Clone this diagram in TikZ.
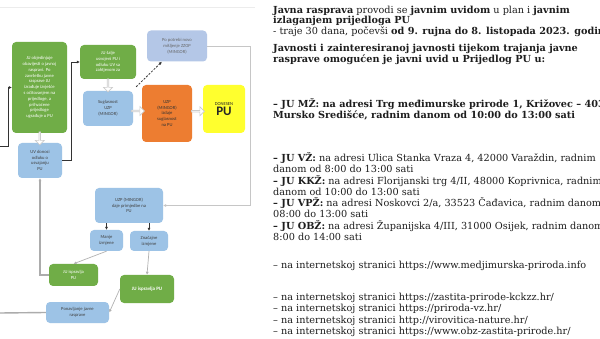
\documentclass[tikz,border=0pt]{standalone}
\usepackage{fontspec}
\setmainfont{DejaVu Serif}
\newfontfamily\boxfont{Carlito}
\usetikzlibrary{arrows.meta,shapes.arrows,calc}
\definecolor{gr}{HTML}{70AD47}
\definecolor{lb}{HTML}{9DC3E6}
\definecolor{lav}{HTML}{B4C7E7}
\definecolor{org}{HTML}{ED7D31}
\definecolor{yel}{HTML}{FFFF2E}
\definecolor{txt}{HTML}{1E1E1E}
\newcommand{\txtline}[3]{\node[tx] (#1) at (273,#2) {#3};}
\begin{document}
\begin{tikzpicture}[x=1pt,y=-1pt,
  box/.style={rounded corners=4pt, align=center, inner sep=1pt,
    font=\boxfont\fontsize{4.6}{5.8}\selectfont},
  gbox/.style={box, fill=gr, text=white},
  bbox/.style={box, fill=lb, text=black!75},
  hol/.style={single arrow, draw=gray!40, fill=white, line width=0.6pt,
    minimum height=13pt, minimum width=9pt, single arrow head extend=1.5pt,
    inner sep=0pt},
  dk/.style={draw=black!80, line width=0.8pt, -{Latex[length=3pt,width=3pt]}},
  lt/.style={draw=gray!45, line width=0.8pt, -{Latex[length=3pt,width=3pt]}},
  md/.style={draw=gray!65, line width=1.4pt},
  tx/.style={anchor=base west, inner sep=0pt, text=txt,
    font=\fontsize{9.7}{11}\selectfont}
]
\useasboundingbox (0,0) rectangle (600,339);
\clip (0,0) rectangle (600,339);
\fill[white] (0,0) rectangle (600,339);
\draw[gray!15, line width=0.6pt] (0,7) -- (255,7);

% boxes
\node[gbox, minimum width=55pt, minimum height=91pt] (n1) at (39.5,87.5)
  {JU objedinjuje\\obavijesti o javnoj\\raspravi. Po\\završetku javne\\rasprave JU\\izrađuje izvješće\\s očitovanjem na\\prijedloge, a\\prihvaćene\\prijedloge\\ugrađuje u PU};
\node[gbox, minimum width=56pt, minimum height=34pt] (n2) at (108,62)
  {JU šalje\\usvojeni PU i\\odluku UV sa\\zahtjevom za};
\node[bbox, minimum width=50pt, minimum height=35pt] (n3) at (108,108.5)
  {Suglasnost\\UZP\\(MINGOR)};
\node[box, fill=lav, text=black!60, minimum width=60pt, minimum height=31pt] (n4) at (177,46)
  {Po potrebi novo\\mišljenje ZZOP\\(MINGOR)};
\node[box, fill=org, text=black!80, minimum width=50pt, minimum height=57pt] (n5) at (167,113.5)
  {UZP\\(MINGOR)\\izdaje\\suglasnost\\na PU};
\node[box, fill=yel, text=black!85, minimum width=42pt, minimum height=48pt] (n6) at (224,109)
  {DONESEN\\[1pt]{\fontsize{13}{14}\selectfont\bfseries PU}};
\node[bbox, minimum width=44pt, minimum height=35pt] (n7) at (40,160.5)
  {UV donosi\\odluku o\\usvajanju\\PU};
\node[bbox, minimum width=68pt, minimum height=35pt] (n8) at (129,205.5)
  {UZP (MINGOR)\\daje primjedbe na\\PU};
\node[bbox, minimum width=33pt, minimum height=21pt] (n9) at (106.5,240.5)
  {Manje\\izmjene};
\node[bbox, minimum width=38pt, minimum height=20pt] (n10) at (149,241)
  {Značajne\\izmjene};
\node[gbox, minimum width=49pt, minimum height=22pt] (n11) at (73.5,275)
  {JU ispravlja\\PU};
\node[gbox, minimum width=54pt, minimum height=28pt, font=\boxfont\fontsize{5}{6}\selectfont\bfseries] (n12) at (147,289)
  {JU ispravlja PU};
\node[bbox, minimum width=63pt, minimum height=21pt] (n13) at (77.5,312.5)
  {Ponavljanje javne\\rasprave};

% hollow arrows
\node[hol, rotate=-90] (h1) at ($(n1.south)!0.5!(n7.north)$) {};
\node[hol, rotate=-90] (h2) at ($(n2.south)!0.5!(n3.north)$) {};
\node[hol] (h3) at ($(n3.east)!0.5!(n5.west)$) {};
\node[hol] (h4) at ($(n5.east)!0.5!(n6.west)$) {};

% connectors
\coordinate (inL) at (0,146);
\coordinate (outL) at (0,313);
\draw[dk] (inL) -- ++(8,0) |- (n1.west);
\draw[dk] (n7.east) -- ++(9,0) |- (n2.west);
\draw[dk, dashed, dash pattern=on 2pt off 1.5pt] ($(n3.north east)+(3,-4)$) -- ($(n4.south west)!0.25!(n4.south east)$);
\draw[lt] (n4.east) -- ++(43,0) |- (n8.east);
\draw[dk, line width=0.6pt] (n9.north |- n8.south) -- (n9.north);
\draw[dk, line width=0.6pt] (n10.north |- n8.south) -- (n10.north);
\draw[dk, draw=gray!60, line width=0.7pt] (n9.south) -- (n11.north);
\draw[dk, draw=gray!60, line width=0.7pt] (n10.south) -- (n12.north);
\draw[md, -{Latex[length=3pt,width=3pt]}] (n11.west) -| (n7.south);
\draw[dk, draw=gray!60, line width=0.7pt] (n12.west) -- (n13.east);
\draw[md] (n13.west) -- (outL);

% right text
\txtline{t1}{13.5}{\textbf{Javna rasprava} provodi se \textbf{javnim uvidom} u plan i \textbf{javnim}}
\txtline{t2}{24}{\textbf{izlaganjem prijedloga PU}}
\txtline{t3}{34.5}{- traje 30 dana, počevši \textbf{od 9. rujna do 8. listopada 2023. godine}}
\txtline{t4}{52}{\textbf{Javnosti i zainteresiranoj javnosti tijekom trajanja javne}}
\txtline{t5}{62.5}{\textbf{rasprave omogućen je javni uvid u Prijedlog PU u:}}
\txtline{t6}{107.5}{\textbf{– JU MŽ: na adresi Trg međimurske prirode 1, Križovec – 403}}
\txtline{t7}{118.5}{\textbf{Mursko Središće, radnim danom od 10:00 do 13:00 sati}}
\txtline{t8}{161.5}{\textbf{– JU VŽ:} na adresi Ulica Stanka Vraza 4, 42000 Varaždin, radnim}
\txtline{t9}{172.8}{danom od 8:00 do 13:00 sati}
\txtline{t10}{184.1}{\textbf{– JU KKŽ:} na adresi Florijanski trg 4/II, 48000 Koprivnica, radnim}
\txtline{t11}{195.4}{danom od 10:00 do 13:00 sati}
\txtline{t12}{206.7}{\textbf{– JU VPŽ:} na adresi Noskovci 2/a, 33523 Čađavica, radnim danom}
\txtline{t13}{218}{08:00 do 13:00 sati}
\txtline{t14}{229.3}{\textbf{– JU OBŽ:} na adresi Županijska 4/III, 31000 Osijek, radnim danom}
\txtline{t15}{240.6}{8:00 do 14:00 sati}
\txtline{t16}{268.5}{– na internetskoj stranici https://www.medjimurska-priroda.info}
\txtline{t17}{300.5}{– na internetskoj stranici https://zastita-prirode-kckzz.hr/}
\txtline{t18}{311.8}{– na internetskoj stranici https://priroda-vz.hr/}
\txtline{t19}{323.1}{– na internetskoj stranici http://virovitica-nature.hr/}
\txtline{t20}{334.4}{– na internetskoj stranici https://www.obz-zastita-prirode.hr/}
\end{tikzpicture}
\end{document}
